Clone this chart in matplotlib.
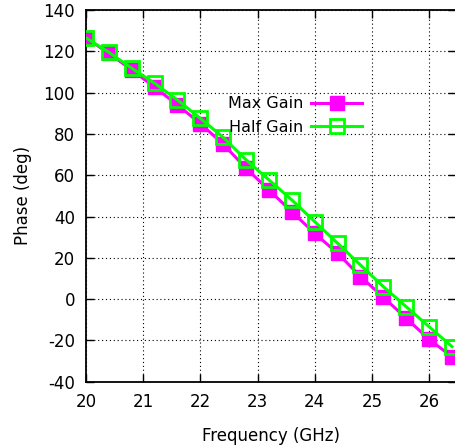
import numpy as np
import matplotlib
matplotlib.use("Agg")
import matplotlib.pyplot as plt

# frequency points (GHz) and measured phase (deg)
freq = [20.0, 20.4, 20.8, 21.2, 21.6, 22.0, 22.4, 22.8, 23.2,
        23.6, 24.0, 24.4, 24.8, 25.2, 25.6, 26.0, 26.4]
max_gain = [126.5, 119.0, 111.0, 102.6, 94.0, 85.0, 75.0, 63.3, 52.8,
            42.3, 31.8, 22.2, 10.9, 0.9, -9.3, -19.5, -27.9]
half_gain = [126.5, 119.5, 111.8, 104.5, 96.4, 87.5, 78.3, 67.4, 57.7,
             48.0, 37.5, 27.0, 16.5, 6.0, -3.7, -13.4, -23.0]

xticks = [20, 21, 22, 23, 24, 25, 26]
yticks = [-40, -20, 0, 20, 40, 60, 80, 100, 120, 140]

plt.rcParams['font.family'] = ['DejaVu Sans']
plt.rcParams['font.size'] = 12
plt.rcParams['axes.unicode_minus'] = False

fig = plt.figure(figsize=(4.55, 4.47), dpi=100)
ax = fig.add_axes([86 / 455, 65.3 / 447, 370 / 455, 371.7 / 447])

ax.plot(freq, max_gain, color='#ff00ff', lw=2.2, marker='s', ms=10.5,
        mfc='#ff00ff', mec='#ff00ff', label='Max Gain', zorder=3)
ax.plot(freq, half_gain, color='#00ff00', lw=2.2, marker='s', ms=9.5,
        mfc='none', mec='#00ff00', mew=2, label='Half Gain', zorder=4)

ax.set_xlim(20, 26.47)
ax.set_ylim(-40, 140)
ax.set_xticks(xticks)
ax.set_yticks(yticks)
ax.tick_params(direction='in', length=6, width=1, top=True, right=True, pad=8)
ax.grid(True, color='black', linestyle=(0, (1, 2.5)), linewidth=0.8)
for s in ax.spines.values():
    s.set_linewidth(1.3)
ax.spines['right'].set_visible(False)

ax.set_xlabel('Frequency (GHz)', labelpad=12)
ax.set_ylabel('Phase (deg)', labelpad=8)

leg = ax.legend(loc='upper left', bbox_to_anchor=(0.345, 0.807), frameon=False,
                markerfirst=False, handlelength=3.2, handletextpad=0.5,
                labelspacing=0.55, fontsize=11.5)

fig.savefig('out.png', dpi=100)
